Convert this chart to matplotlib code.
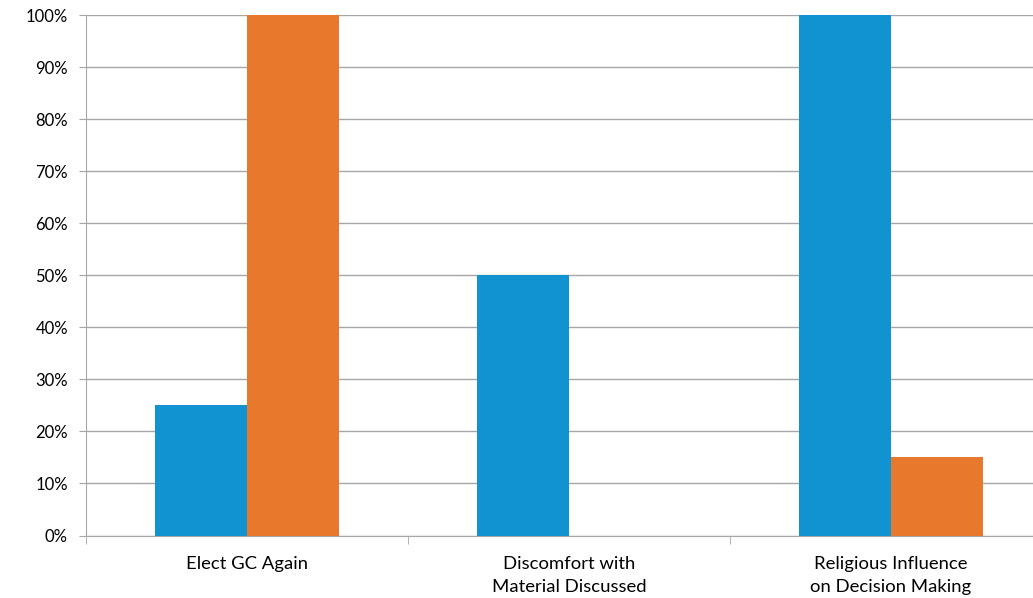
import matplotlib.pyplot as plt
import numpy as np
from matplotlib.ticker import FuncFormatter

plt.rcParams['font.family'] = ['Lato', 'DejaVu Sans']

categories = ["Elect GC Again", "Discomfort with\nMaterial Discussed", "Religious Influence\non Decision Making"]
blue_vals = [25, 50, 100]
orange_vals = [100, 0, 15]

blue = "#1192d1"
orange = "#e8792c"
grey = "#a6a6a6"

fig = plt.figure(figsize=(10.33, 5.98), dpi=100)
# axes runs past the right edge, like the original screenshot
ax = fig.add_axes([86 / 1033, 62.5 / 598, 966 / 1033, 520.5 / 598])

x = np.arange(len(categories)) + 0.5
w = 0.286
ax.bar(x - w / 2, blue_vals, width=w, color=blue, zorder=3)
ax.bar(x + w / 2, orange_vals, width=w, color=orange, zorder=3)

ax.set_xlim(0, len(categories))
ax.set_ylim(0, 100)
ax.set_yticks(np.arange(0, 101, 10))
ax.yaxis.set_major_formatter(FuncFormatter(lambda v, p: f"{int(v)}%"))
ax.grid(axis="y", color=grey, linewidth=1, zorder=0)

ax.set_xticks(x)
ax.set_xticklabels(categories, fontsize=13.3, linespacing=1.55)
ax.set_xticks(np.arange(0, len(categories) + 1), minor=True)
ax.tick_params(axis="x", which="major", length=0, pad=15)
ax.tick_params(axis="x", which="minor", length=6, color=grey)
ax.tick_params(axis="y", length=5, color=grey, labelsize=12, pad=8)

for s in ["top", "right"]:
    ax.spines[s].set_visible(False)
for s in ["left", "bottom"]:
    ax.spines[s].set_color(grey)

plt.savefig("out.png", dpi=100)
